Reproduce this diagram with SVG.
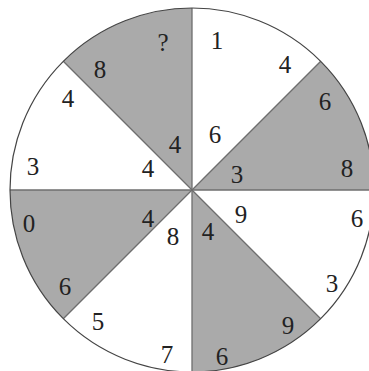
<svg xmlns="http://www.w3.org/2000/svg" width="369" height="371" viewBox="0 0 369 371">
<defs>
<style>
.g{fill:#aaaaaa;stroke:none}
.ln{stroke:#6e6e6e;stroke-width:1.3;fill:none}
.c{fill:none;stroke:#444;stroke-width:1.2}
</style>
</defs>
<rect width="369" height="371" fill="#fff"/>
<g id="sectors">
<path class="g" d="M192,190 L192,8 A182,182 0 0 0 63.3,61.3 Z"/>
<path class="g" d="M192,190 L320.7,61.3 A182,182 0 0 1 374,190 Z"/>
<path class="g" d="M192,190 L320.7,318.7 A182,182 0 0 1 192,372 Z"/>
<path class="g" d="M192,190 L63.3,318.7 A182,182 0 0 1 10,190 Z"/>
</g>
<g id="connectors">
<line class="ln" x1="192" y1="8" x2="192" y2="372"/>
<line class="ln" x1="10" y1="190" x2="374" y2="190"/>
<line class="ln" x1="63.3" y1="61.3" x2="320.7" y2="318.7"/>
<line class="ln" x1="320.7" y1="61.3" x2="63.3" y2="318.7"/>
<circle class="c" cx="192" cy="190" r="182"/>
</g>
<g id="labels" fill="#222" text-anchor="middle">
<text x="163" y="51" font-family="'Liberation Serif'" font-size="25">?</text>
<text x="217" y="49" font-family="'Liberation Serif'" font-size="25">1</text>
<text x="285" y="73" font-family="'Liberation Serif'" font-size="25">4</text>
<text x="100" y="78" font-family="'Liberation Serif'" font-size="25">8</text>
<text x="68" y="107" font-family="'Liberation Serif'" font-size="25">4</text>
<text x="325" y="110" font-family="'Liberation Serif'" font-size="25">6</text>
<text x="215" y="143" font-family="'Liberation Serif'" font-size="25">6</text>
<text x="175" y="153" font-family="'Liberation Serif'" font-size="25">4</text>
<text x="33" y="175" font-family="'Liberation Serif'" font-size="25">3</text>
<text x="148" y="177" font-family="'Liberation Serif'" font-size="25">4</text>
<text x="237" y="183" font-family="'Liberation Serif'" font-size="25">3</text>
<text x="347" y="177" font-family="'Liberation Serif'" font-size="25">8</text>
<text x="241" y="223" font-family="'Liberation Serif'" font-size="25">9</text>
<text x="357" y="227" font-family="'Liberation Serif'" font-size="25">6</text>
<text x="29" y="232" font-family="'Liberation Serif'" font-size="25">0</text>
<text x="148" y="227" font-family="'Liberation Serif'" font-size="25">4</text>
<text x="173" y="245" font-family="'Liberation Serif'" font-size="25">8</text>
<text x="208" y="240" font-family="'Liberation Serif'" font-size="25">4</text>
<text x="65" y="295" font-family="'Liberation Serif'" font-size="25">6</text>
<text x="332" y="292" font-family="'Liberation Serif'" font-size="25">3</text>
<text x="98" y="330" font-family="'Liberation Serif'" font-size="25">5</text>
<text x="288" y="334" font-family="'Liberation Serif'" font-size="25">9</text>
<text x="167" y="363" font-family="'Liberation Serif'" font-size="25">7</text>
<text x="222" y="365" font-family="'Liberation Serif'" font-size="25">6</text>
</g>
</svg>
